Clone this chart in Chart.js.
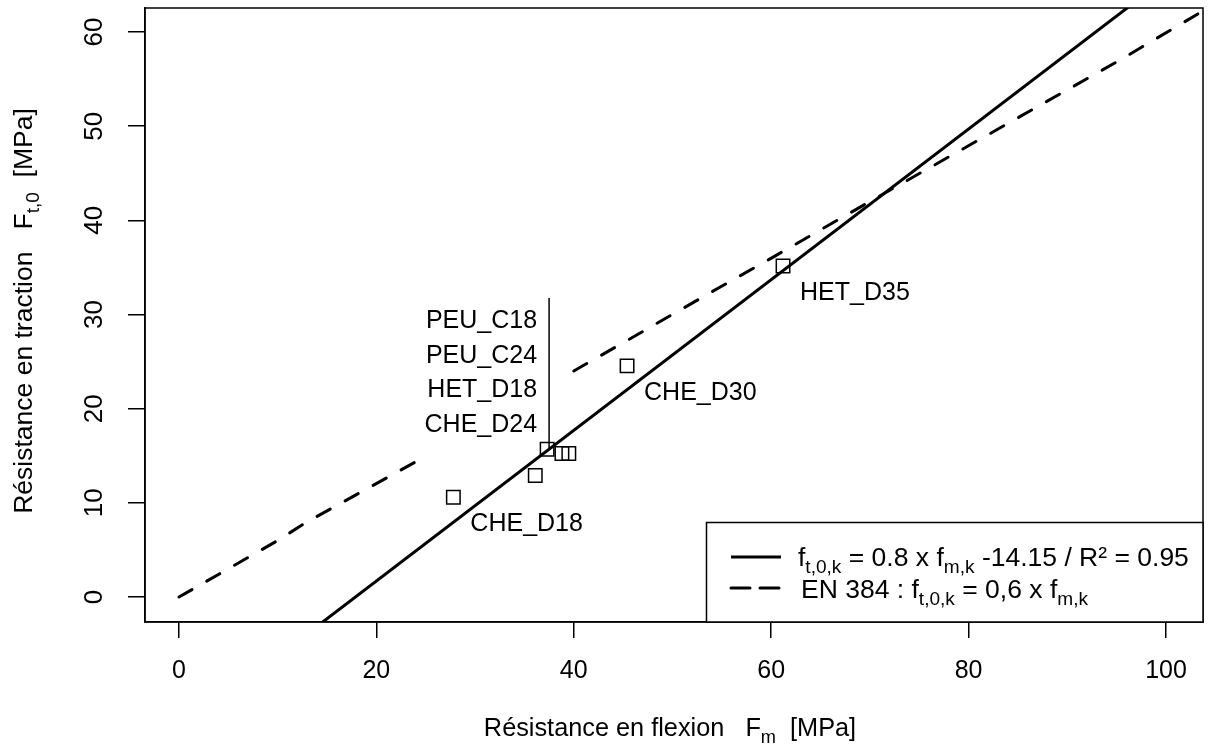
<!DOCTYPE html>
<html>
<head>
<meta charset="utf-8">
<script src="https://cdn.jsdelivr.net/npm/chart.js@4/dist/chart.umd.min.js"></script>
<style>
  body { margin: 0; background: #fff; }
  canvas { display: block; }
</style>
</head>
<body>
<canvas id="myChart" width="1211" height="746"></canvas>
<script>
// regression line (fit on the measured points)
const fitX = [10, 100];
const fitY = [-6.3, 65.7];

// EN 384 reference line (gap where the labels sit)
const enX = [0, 10, 13, 15.6, 24.4, 32, 40, 54.8, 60.2, 70, 95.3, 104];
const enY = [0, 6, 8, 9.5, 14.6, null, 24, 32.9, 36.1, 42, 57, 62.4];

// measured classes
const ptX = [27.8, 36.1, 37.3, 38.8, 39.5, 45.4, 61.2];
const ptY = [10.6, 12.9, 15.7, 15.25, 15.25, 24.55, 35.15];
const ptLabels = ['CHE_D18', '', '', '', '', 'CHE_D30', 'HET_D35'];

// the stacked label group and its leader line
const groupLabels = ['PEU_C18', 'PEU_C24', 'HET_D18', 'CHE_D24'];
const leaderX = [37.5, 37.5];
const leaderY = [15.6, 31.75];

const xTicks = [0, 20, 40, 60, 80, 100];
const yTicks = [0, 10, 20, 30, 40, 50, 60];

const FONT = '"Liberation Sans", Arial, sans-serif';

function toXY(xs, ys) {
    return xs.map((x, i) => ({ x: x, y: ys[i] }));
}

// draws text made of normal and subscript pieces
function drawRich(ctx, parts, x, y, align, size) {
    let w = 0;
    parts.forEach(p => {
        ctx.font = (p.sub ? size * 0.72 : size) + 'px ' + FONT;
        w += ctx.measureText(p.t).width;
    });
    let cx = align === 'center' ? x - w / 2 : (align === 'right' ? x - w : x);
    ctx.textAlign = 'left';
    ctx.textBaseline = 'alphabetic';
    parts.forEach(p => {
        ctx.font = (p.sub ? size * 0.72 : size) + 'px ' + FONT;
        ctx.fillText(p.t, cx, p.sub ? y + size * 0.28 : y);
        cx += ctx.measureText(p.t).width;
    });
}

const annotations = {
    id: 'annotations',
    afterDatasetsDraw(chart) {
        const ctx = chart.ctx;
        const xs = chart.scales.x, ys = chart.scales.y;
        const area = chart.chartArea;
        ctx.save();
        ctx.fillStyle = '#000';

        // point labels
        ctx.font = '25px ' + FONT;
        ctx.textAlign = 'left';
        ctx.textBaseline = 'alphabetic';
        ptLabels.forEach((lab, i) => {
            if (!lab) return;
            ctx.fillText(lab, xs.getPixelForValue(ptX[i]) + 17, ys.getPixelForValue(ptY[i]) + 34);
        });

        // stacked labels
        ctx.textAlign = 'right';
        const gx = xs.getPixelForValue(leaderX[1]) - 12;
        const gy = ys.getPixelForValue(leaderY[1]) + 30;
        groupLabels.forEach((lab, i) => {
            ctx.fillText(lab, gx, gy + i * 34.7);
        });

        // box around the plot
        ctx.strokeStyle = '#000';
        ctx.lineWidth = 1.5;
        ctx.strokeRect(area.left, area.top, area.right - area.left, area.bottom - area.top);

        // legend
        const lx = 706.5, ly = 522.5;
        ctx.fillStyle = '#fff';
        ctx.fillRect(lx, ly, area.right - lx, area.bottom - ly);
        ctx.strokeRect(lx, ly, area.right - lx, area.bottom - ly);
        ctx.lineWidth = 3;
        ctx.beginPath();
        ctx.moveTo(731, 557);
        ctx.lineTo(781, 557);
        ctx.stroke();
        ctx.setLineDash([19, 10]);
        ctx.lineCap = 'round';
        ctx.beginPath();
        ctx.moveTo(731, 588);
        ctx.lineTo(781, 588);
        ctx.stroke();
        ctx.setLineDash([]);
        ctx.fillStyle = '#000';
        drawRich(ctx, [{ t: 'f' }, { t: 't,0,k', sub: 1 }, { t: ' = 0.8 x f' }, { t: 'm,k', sub: 1 },
            { t: ' -14.15 / R² = 0.95' }], 798, 566, 'left', 26.5);
        drawRich(ctx, [{ t: 'EN 384 : f' }, { t: 't,0,k', sub: 1 }, { t: ' = 0,6 x f' }, { t: 'm,k', sub: 1 }],
            801, 598, 'left', 26.5);

        // axis titles
        drawRich(ctx, [{ t: 'Résistance en flexion   F' }, { t: 'm', sub: 1 }, { t: '  [MPa]' }],
            670, 736, 'center', 25.3);
        ctx.translate(32, 311);
        ctx.rotate(-Math.PI / 2);
        drawRich(ctx, [{ t: 'Résistance en traction   F' }, { t: 't,0', sub: 1 }, { t: '  [MPa]' }],
            0, 0, 'center', 26.5);
        ctx.restore();
    }
};

const myChartRef = document.getElementById('myChart').getContext('2d');
new Chart(myChartRef, {
    type: 'scatter',
    data: {
        datasets: [
            {
                label: 'fit',
                data: toXY(fitX, fitY),
                showLine: true,
                borderColor: '#000',
                borderWidth: 3,
                pointRadius: 0
            },
            {
                label: 'EN 384',
                data: toXY(enX, enY),
                showLine: true,
                spanGaps: false,
                borderColor: '#000',
                borderWidth: 3,
                borderDash: [15, 17],
                borderCapStyle: 'round',
                pointRadius: 0
            },
            {
                label: 'leader',
                data: toXY(leaderX, leaderY),
                showLine: true,
                borderColor: '#000',
                borderWidth: 1.5,
                pointRadius: 0
            },
            {
                label: 'classes',
                data: toXY(ptX, ptY),
                showLine: false,
                pointStyle: 'rect',
                pointRadius: 9.5,
                pointBorderWidth: 1.5,
                pointBorderColor: '#000',
                pointBackgroundColor: 'rgba(0,0,0,0)'
            }
        ]
    },
    options: {
        responsive: false,
        animation: false,
        layout: { autoPadding: false, padding: { top: 8, right: 8, left: 0, bottom: 0 } },
        plugins: {
            legend: { display: false },
            tooltip: { enabled: false }
        },
        scales: {
            x: {
                type: 'linear',
                min: -3.44,
                max: 103.75,
                afterFit: s => { s.height = 124; s.paddingLeft = 0; s.paddingRight = 0; },
                afterBuildTicks: s => { s.ticks = xTicks.map(v => ({ value: v })); },
                ticks: { stepSize: 20, includeBounds: false, autoSkip: false, color: '#000',
                    font: { size: 25, family: FONT }, padding: 18, maxRotation: 0 },
                grid: { drawOnChartArea: false, drawTicks: true, tickLength: 16, color: '#000', lineWidth: 1.5 },
                border: { display: true, color: '#000', width: 1.5 }
            },
            y: {
                type: 'linear',
                min: -2.65,
                max: 62.55,
                afterFit: s => { s.width = 145; s.paddingTop = 0; s.paddingBottom = 0; },
                afterBuildTicks: s => { s.ticks = yTicks.map(v => ({ value: v })); },
                ticks: { stepSize: 10, includeBounds: false, autoSkip: false, color: '#000',
                    font: { size: 26, family: FONT }, padding: 19, minRotation: 90, maxRotation: 90,
                    crossAlign: 'center' },
                grid: { drawOnChartArea: false, drawTicks: true, tickLength: 17, color: '#000', lineWidth: 1.5 },
                border: { display: true, color: '#000', width: 1.5 }
            }
        }
    },
    plugins: [annotations]
});
</script>
</body>
</html>
